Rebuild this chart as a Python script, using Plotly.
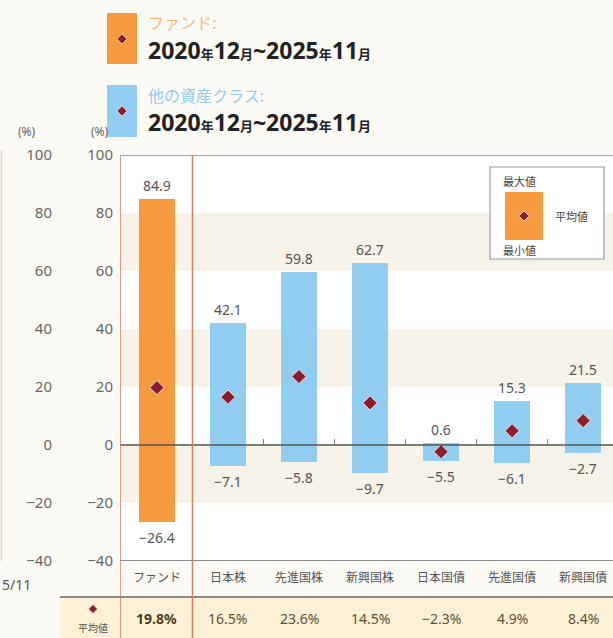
import plotly.graph_objects as go

# ---- data ----
categories = ["ファンド", "日本株", "先進国株", "新興国株", "日本国債", "先進国債", "新興国債"]
max_vals = [84.9, 42.1, 59.8, 62.7, 0.6, 15.3, 21.5]
min_vals = [-26.4, -7.1, -5.8, -9.7, -5.5, -6.1, -2.7]
avg_vals = [19.8, 16.5, 23.6, 14.5, -2.3, 4.9, 8.4]
y_ticks = [-40, -20, 0, 20, 40, 60, 80, 100]
period_label = "2020<span style='font-size:13px'>年</span>12<span style='font-size:13px'>月</span>~2025<span style='font-size:13px'>年</span>11<span style='font-size:13px'>月</span>"

W, H = 613, 638
ORANGE = "#f59a3f"
BLUE = "#90cdf1"
DIAMOND = "#8a1d2e"
BAND = "#f6f2e7"
BORDER = "#c98266"
BG = "#fcfaf4"
CJK = "Noto Sans CJK JP"

def px(x):
    return x / W

def py(y):
    return 1 - y / H

def fmt(v):
    s = f"{abs(v):.1f}"
    return ("\u2212" + s) if v < 0 else s

idx = list(range(len(categories)))
colors = [ORANGE] + [BLUE] * (len(categories) - 1)

fig = go.Figure()

fig.add_trace(go.Bar(
    x=idx, y=[mx - mn for mx, mn in zip(max_vals, min_vals)], base=min_vals,
    width=0.5, marker=dict(color=colors, line=dict(width=0)),
    showlegend=False, hoverinfo="skip"))

fig.add_trace(go.Scatter(
    x=idx, y=avg_vals, mode="markers",
    marker=dict(symbol="diamond", size=11, color=DIAMOND, line=dict(width=1, color="#f4d9d9")),
    showlegend=False, hoverinfo="skip"))
# invisible trace for the partial left axis
fig.add_trace(go.Scatter(x=[0], y=[0], yaxis="y2", mode="markers",
                         marker=dict(opacity=0), showlegend=False, hoverinfo="skip"))

shapes = []
# background bands
for lo in (60, 20, -20):
    shapes.append(dict(type="rect", xref="x domain", yref="y", x0=0, x1=1, y0=lo, y1=lo + 20,
                       fillcolor=BAND, line=dict(width=0), layer="below"))
# average row background
shapes.append(dict(type="rect", xref="paper", yref="paper", x0=px(60), x1=1, y0=0, y1=py(597),
                   fillcolor="#fdf0d6", line=dict(width=0), layer="below"))
# frame lines
shapes.append(dict(type="line", xref="x domain", yref="y", x0=0, x1=1, y0=100, y1=100,
                   line=dict(color="#8a8a8a", width=1.5)))
shapes.append(dict(type="line", xref="x domain", yref="y", x0=0, x1=1, y0=-40, y1=-40,
                   line=dict(color="#666666", width=1.5)))
shapes.append(dict(type="line", xref="paper", yref="paper", x0=px(60), x1=1, y0=py(597), y1=py(597),
                   line=dict(color="#666666", width=1.5)))
# zero line and small separators
shapes.append(dict(type="line", xref="x domain", yref="y", x0=0, x1=1, y0=0, y1=0,
                   line=dict(color="#555555", width=1.5), layer="above"))
for i in idx[1:-1]:
    shapes.append(dict(type="line", xref="x", yref="y", x0=i + 0.5, x1=i + 0.5, y0=0, y1=2,
                       line=dict(color="#777777", width=1)))
# fund column borders
for xb in (-0.52, 0.5):
    shapes.append(dict(type="line", xref="x", yref="paper", x0=xb, x1=xb, y0=0, y1=py(155),
                       line=dict(color=BORDER, width=1.5)))
# faint left edge line of neighbouring chart
shapes.append(dict(type="line", xref="paper", yref="paper", x0=px(1.5), x1=px(1.5), y0=py(561), y1=py(150),
                   line=dict(color="#f2d2b2", width=1.5)))

def diamond(cx, cy, r, color=DIAMOND):
    return dict(type="path", xref="paper", yref="paper",
                path=f"M {px(cx)},{py(cy - r)} L {px(cx + r)},{py(cy)} L {px(cx)},{py(cy + r)} L {px(cx - r)},{py(cy)} Z",
                fillcolor=color, line=dict(color="#f4d9d9", width=0.8))

# top legend squares
shapes.append(dict(type="rect", xref="paper", yref="paper", x0=px(107), x1=px(137), y0=py(64), y1=py(13),
                   fillcolor=ORANGE, line=dict(width=0)))
shapes.append(dict(type="rect", xref="paper", yref="paper", x0=px(107), x1=px(137), y0=py(137), y1=py(85),
                   fillcolor=BLUE, line=dict(width=0)))
shapes.append(diamond(122, 39, 5))
shapes.append(diamond(122, 111, 5))
# top-right legend box
shapes.append(dict(type="rect", xref="paper", yref="paper", x0=px(490), x1=px(604), y0=py(259), y1=py(167),
                   fillcolor="white", line=dict(color="#9a9a9a", width=1.2)))
shapes.append(dict(type="rect", xref="paper", yref="paper", x0=px(505), x1=px(543), y0=py(240), y1=py(192),
                   fillcolor=ORANGE, line=dict(width=0)))
shapes.append(diamond(524, 216, 5))
# left average label diamond
shapes.append(diamond(93, 609, 4.5))

ann = []
def note(x, y, text, size=12, color="#555555", family=CJK, xanchor="center", **kw):
    ann.append(dict(xref="paper", yref="paper", x=px(x), y=py(y), text=text, showarrow=False,
                    font=dict(size=size, color=color, family=family), xanchor=xanchor, yanchor="middle", **kw))

note(146, 22, "ファンド:", size=16, color="#f6b67c", xanchor="left")
note(146, 50, "<b>" + period_label + "</b>", size=23, color="#222222",
     family="Noto Sans, Noto Sans CJK JP", xanchor="left")
note(146, 95, "他の資産クラス:", size=16, color="#93ccee", xanchor="left")
note(146, 122, "<b>" + period_label + "</b>", size=23, color="#222222",
     family="Noto Sans, Noto Sans CJK JP", xanchor="left")

note(519, 181, "最大値", size=11, color="#444444")
note(519, 250, "最小値", size=11, color="#444444")
note(571, 216, "平均値", size=11, color="#444444")

note(27, 131, "(%)", size=12, color="#666666", family="Noto Sans")
note(100, 131, "(%)", size=12, color="#666666", family="Noto Sans")
note(0, 584, "5/11", size=14, color="#555555", family="Noto Sans", xanchor="left")
note(93, 627, "平均値", size=10, color="#555555")

# max / min value labels at bar ends
for i, (mx, mn) in enumerate(zip(max_vals, min_vals)):
    ann.append(dict(xref="x", yref="y", x=i, y=mx, text=fmt(mx), showarrow=False, yanchor="bottom",
                    yshift=2, font=dict(size=14, color="#555555", family="Noto Sans")))
    ann.append(dict(xref="x", yref="y", x=i, y=mn, text=fmt(mn), showarrow=False, yanchor="top",
                    yshift=-4, font=dict(size=14, color="#555555", family="Noto Sans")))

for i, c in enumerate(categories):
    ann.append(dict(xref="x", yref="paper", x=i, y=py(576), text=c, showarrow=False,
                    font=dict(size=12, color="#555555", family=CJK), yanchor="middle"))
for i, v in enumerate(avg_vals):
    t = fmt(v) + "%"
    if i == 0:
        t = "<b>" + t + "</b>"
    ann.append(dict(xref="x", yref="paper", x=i, y=py(618), text=t, showarrow=False,
                    font=dict(size=14, color="#5e5236" if i else "#4a3f22", family="Noto Sans"),
                    yanchor="middle"))

fig.update_layout(
    width=W, height=H, autosize=False,
    margin=dict(l=0, r=0, t=0, b=0, pad=0, autoexpand=False),
    paper_bgcolor=BG, plot_bgcolor="white",
    shapes=shapes, annotations=ann, bargap=0,
    xaxis=dict(domain=[px(120), 1], range=[-0.52, 6.42], showticklabels=False, showgrid=False,
               zeroline=False, showline=False, ticks="", fixedrange=True, automargin=False),
    yaxis=dict(domain=[py(561), py(155)], range=[-40, 100], tickvals=y_ticks, showgrid=False,
               zeroline=False, showline=False, ticks="", ticklabelstandoff=6, automargin=False,
               tickfont=dict(size=15, color="#666666", family="Noto Sans")),
    yaxis2=dict(overlaying="y", anchor="free", position=px(58), side="left", range=[-40, 100],
                tickvals=y_ticks, showgrid=False, zeroline=False, showline=False, ticks="",
                ticklabelstandoff=6, automargin=False,
                tickfont=dict(size=15, color="#666666", family="Noto Sans")),
)

post = (
    "var d=document.getElementById('{plot_id}');"
    "d.style.position='fixed';d.style.left='0px';d.style.top='0px';"
    "document.documentElement.style.margin='0';document.documentElement.style.padding='0';"
    "document.documentElement.style.overflow='hidden';"
    "document.body.style.margin='0';document.body.style.padding='0';document.body.style.overflow='hidden';"
    "document.body.style.background='" + BG + "';"
)

fig.write_html("out.html", config={"displayModeBar": False}, post_script=post)
